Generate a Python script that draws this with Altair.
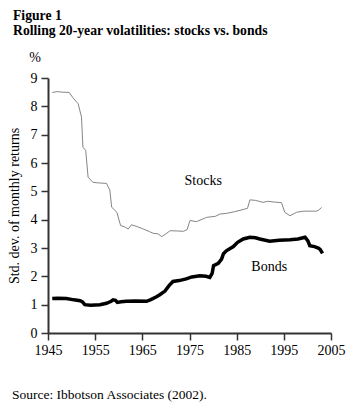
import altair as alt
import pandas as pd

stocks_years = [1945.9, 1947.0, 1948.0, 1949.5, 1950.3, 1951.4, 1952.1, 1952.4, 1953.0, 1953.5,
                1954.5, 1955.5, 1957.4, 1958.1, 1958.5, 1959.6, 1960.4, 1961.2, 1962.0, 1962.7,
                1964.0, 1965.2, 1966.5, 1967.3, 1968.3, 1969.1, 1970.0, 1970.9, 1972.5, 1973.7,
                1974.5, 1975.1, 1976.5, 1978.6, 1980.5, 1981.5, 1982.8, 1984.5, 1985.7, 1987.3,
                1987.8, 1989.0, 1990.6, 1991.6, 1993.0, 1994.5, 1995.2, 1996.3, 1997.7, 1999.1,
                2001.0, 2001.9, 2002.4, 2003.0]
stocks_vals = [8.49, 8.52, 8.50, 8.49, 8.30, 8.09, 7.62, 6.56, 6.44, 5.50,
               5.32, 5.30, 5.28, 5.05, 4.44, 4.26, 3.79, 3.75, 3.67, 3.82,
               3.75, 3.67, 3.58, 3.52, 3.50, 3.40, 3.50, 3.61, 3.60, 3.59,
               3.65, 3.97, 3.93, 4.08, 4.12, 4.20, 4.22, 4.28, 4.33, 4.40,
               4.70, 4.68, 4.61, 4.65, 4.62, 4.60, 4.26, 4.14, 4.26, 4.30,
               4.30, 4.30, 4.34, 4.43]

bonds_years = [1945.9, 1947.0, 1948.9, 1950.5, 1951.8, 1952.3, 1952.8, 1954.0, 1956.0, 1957.4,
               1958.4, 1958.8, 1959.3, 1959.7, 1960.5, 1961.6, 1963.5, 1965.9, 1966.8, 1968.0,
               1968.7, 1969.8, 1970.7, 1971.5, 1972.8, 1974.3, 1975.5, 1977.2, 1978.5, 1979.3,
               1979.8, 1980.1, 1981.1, 1981.8, 1982.2, 1982.8, 1984.3, 1985.2, 1986.4, 1987.8,
               1989.0, 1989.9, 1992.0, 1994.0, 1996.3, 1998.0, 1999.5, 2000.1, 2000.5, 2001.5,
               2002.3, 2002.7, 2003.2]
bonds_vals = [1.22, 1.23, 1.22, 1.17, 1.14, 1.10, 1.00, 0.98, 1.00, 1.05,
              1.12, 1.17, 1.15, 1.08, 1.10, 1.12, 1.13, 1.12, 1.18, 1.28,
              1.35, 1.48, 1.68, 1.82, 1.85, 1.91, 1.98, 2.02, 2.00, 1.96,
              2.10, 2.38, 2.46, 2.61, 2.80, 2.90, 3.05, 3.20, 3.32, 3.38,
              3.36, 3.32, 3.24, 3.27, 3.29, 3.32, 3.38, 3.25, 3.08, 3.05,
              3.00, 2.95, 2.81]

series_labels = ["Stocks", "Bonds"]
label_years = [1977.9, 1991.9]
label_vals = [5.35, 2.34]

x_ticks = [1945, 1955, 1965, 1975, 1985, 1995, 2005]
y_ticks = [0, 1, 2, 3, 4, 5, 6, 7, 8, 9]

FONT = "Liberation Serif, Times New Roman, DejaVu Serif, serif"

stocks_df = pd.DataFrame({"year": stocks_years, "value": stocks_vals})
bonds_df = pd.DataFrame({"year": bonds_years, "value": bonds_vals})
labels_df = pd.DataFrame({"year": label_years, "value": label_vals, "label": series_labels})

xscale = alt.Scale(domain=[1945, 2005], nice=False, zero=False)
yscale = alt.Scale(domain=[0, 9], nice=False, zero=False)

xaxis = alt.Axis(values=x_ticks, format="d", title=None, grid=False,
                 labelFont=FONT, labelFontSize=14, labelColor="black",
                 tickSize=7, labelPadding=3, domainWidth=2, tickWidth=1.5,
                 domainColor="#333", tickColor="#333", labelFlush=False,
                 labelOverlap=False)
yaxis = alt.Axis(values=y_ticks, title="Std. dev. of monthly returns", grid=False,
                 labelFont=FONT, labelFontSize=14, labelColor="black",
                 tickSize=7, labelPadding=4, domainWidth=2, tickWidth=1.5,
                 domainColor="#333", tickColor="#333", labelOverlap=False,
                 titleFont=FONT, titleFontSize=14, titleFontWeight="normal",
                 titleColor="black", titleAngle=270, titleX=-34, titleY=127.5,
                 titleAlign="center", titleBaseline="middle")

def xenc():
    return alt.X("year:Q", scale=xscale, axis=xaxis)

def yenc():
    return alt.Y("value:Q", scale=yscale, axis=yaxis)

stocks = alt.Chart(stocks_df).mark_line(color="#858585", strokeWidth=1).encode(x=xenc(), y=yenc())
bonds = alt.Chart(bonds_df).mark_line(color="black", strokeWidth=3.5).encode(x=xenc(), y=yenc())
labels = alt.Chart(labels_df).mark_text(font=FONT, fontSize=14, color="black",
                                        align="center", baseline="middle").encode(
    x=xenc(), y=yenc(), text="label:N")

one = pd.DataFrame({"a": [0]})
def note(text, x, y, size=13.5, weight="normal", align="left"):
    return alt.Chart(one).mark_text(text=text, font=FONT, fontSize=size, fontWeight=weight,
                                    color="black", align=align, baseline="alphabetic").encode(
        x=alt.value(x), y=alt.value(y))

texts = [
    note("Figure 1", -35, -58, size=13.7, weight="bold"),
    note("Rolling 20-year volatilities: stocks vs. bonds", -35, -43, size=13.7, weight="bold"),
    note("%", -13, -16, size=14, align="center"),
    note("Source: Ibbotson Associates (2002).", -36, 321),
]

chart = alt.layer(stocks, bonds, labels, *texts).properties(
    width=283, height=255,
    autosize=alt.AutoSizeParams(type="none"),
    padding={"left": 40, "top": 70, "right": 21, "bottom": 74},
).configure_view(stroke=None)

chart.save("out.html", embed_options={"renderer": "svg", "actions": False})
